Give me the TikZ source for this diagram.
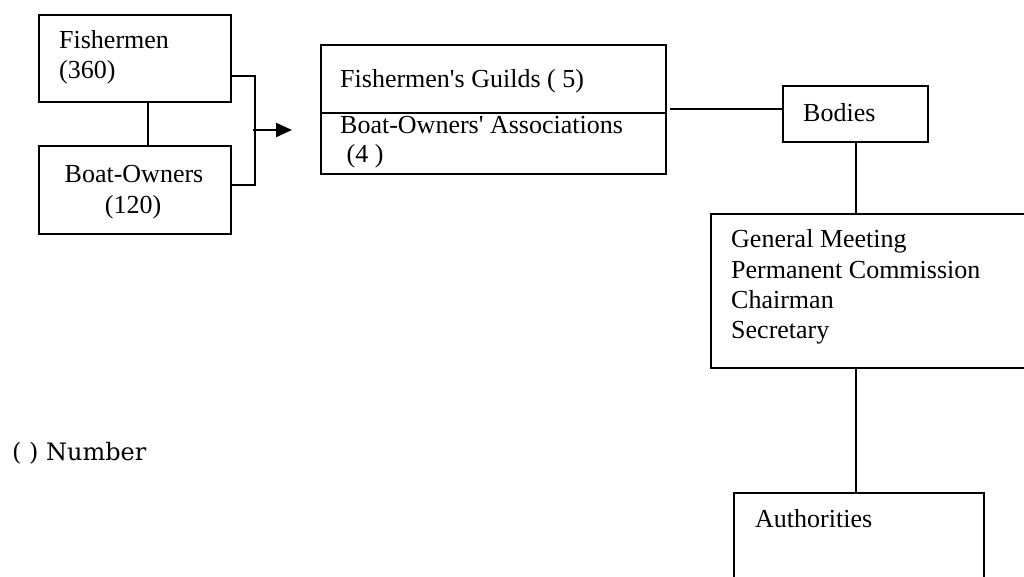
\documentclass[tikz,border=0pt]{standalone}
\usepackage{fontspec}
\setmainfont{Liberation Serif}
\newfontfamily\legendfont{DejaVu Serif}
\usetikzlibrary{arrows.meta}
\begin{document}
\begin{tikzpicture}[x=1pt,y=-1pt,
  box/.style={draw,line width=2.2pt,rectangle,inner sep=0pt,anchor=north west},
  txt/.style={anchor=base west,inner sep=0pt,font=\fontsize{26}{30}\selectfont},
  conn/.style={line width=2.2pt}]
\useasboundingbox (0,0) rectangle (1024,576);
\clip (0,0) rectangle (1024,576);
% boxes
\node[box,minimum width=192pt,minimum height=87pt] (fish) at (38,14) {};
\node[box,minimum width=192pt,minimum height=88pt] (boat) at (38,145) {};
\node[box,minimum width=345pt,minimum height=68pt] (guildA) at (320,44) {};
\node[box,minimum width=345pt,minimum height=61pt] (guildB) at (320,112) {};
\node[box,minimum width=145pt,minimum height=56pt] (bodies) at (782,85) {};
\node[box,minimum width=314pt,minimum height=154pt] (general) at (710,213) {};
\node[box,minimum width=250pt,minimum height=110pt] (auth) at (733,492) {};
% texts
\node[txt] (t1) at (59,48) {Fishermen};
\node[txt] (t2) at (59,78) {(360)};
\node[txt,anchor=base] (t3) at (134,182) {Boat-Owners};
\node[txt,anchor=base] (t4) at (133,213) {(120)};
\node[txt] (t5) at (340,87) {Fishermen\textquotesingle s Guilds ( 5)};
\node[txt] (t6) at (340,133) {Boat-Owners\textquotesingle\ Associations};
\node[txt] (t7) at (340,162) {\ (4 )};
\node[txt] (t8) at (803,121) {Bodies};
\node[txt] (t9) at (731,247) {General Meeting};
\node[txt] (t10) at (731,278) {Permanent Commission};
\node[txt] (t11) at (731,308) {Chairman};
\node[txt] (t12) at (731,338) {Secretary};
\node[txt] (t13) at (755,527) {Authorities};
\node[anchor=base west,inner sep=0pt,font=\legendfont\fontsize{24}{29}\selectfont] (legend) at (12,460) {( ) Number};
% connectors
\coordinate (fx) at (148,0);
\draw[conn] (fx |- fish.south) -- (fx |- boat.north);
\draw[conn] ([yshift=-17.5pt]fish.east) -- ++(23,0) coordinate (bx) |- ([yshift=5pt]boat.east);
\coordinate (astart) at (253,130);
\coordinate (atip) at (292,130);
\draw[conn,-{Triangle[length=16pt,width=14pt]}] (astart) -- (atip);
\coordinate (g1) at (670,109);
\draw[conn] (g1) -- (bodies.west |- g1);
\draw[conn] (bodies.south) -- (bodies.south |- general.north);
\draw[conn] (bodies.south |- general.south) -- (bodies.south |- auth.north);
\end{tikzpicture}
\end{document}
